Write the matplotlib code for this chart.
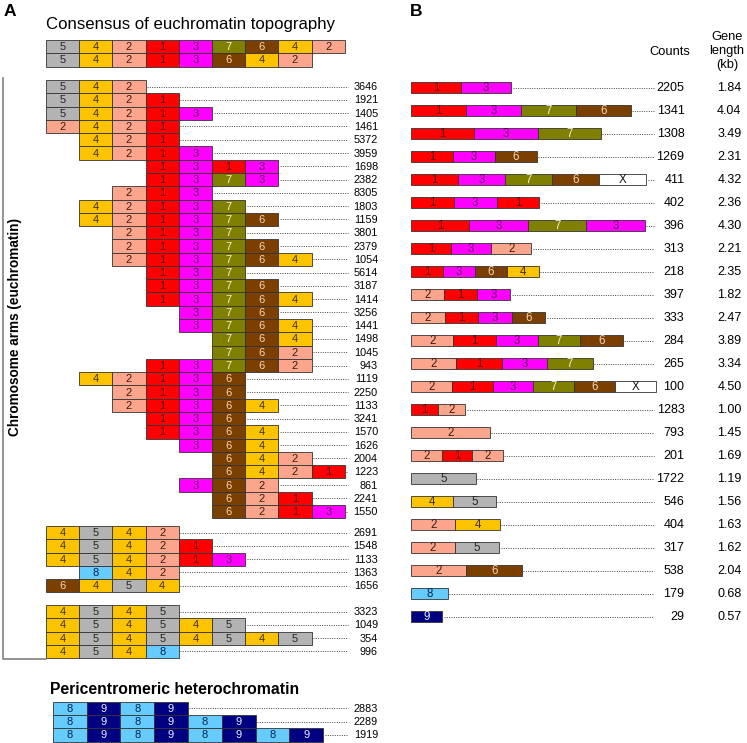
import matplotlib.pyplot as plt
from matplotlib.patches import Rectangle

plt.rcParams['font.family'] = ['Liberation Sans', 'DejaVu Sans']

# couleurs des etats de chromatine
couleurs = {'1': '#ff0000', '2': '#fba58c', '3': '#ff00ff', '4': '#fcc400',
            '5': '#b3b3b3', '6': '#7b3f00', '7': '#808000', '8': '#66ccff',
            '9': '#000080', 'X': '#ffffff'}
couleurs_texte = {'1': '#5c0000', '2': '#3c1c12', '3': '#560056', '4': '#3f3000',
                  '5': '#262626', '6': '#f6d6b8', '7': '#f2f1d2', '8': '#082650',
                  '9': '#eeeeff', 'X': '#111111'}

# --- panneau A ---
consensus_debut = [0, 0]
consensus_seq = ['542137642', '54213642']

bras_debut = [0, 0, 0, 0, 1, 1, 3, 3, 2, 1, 1, 2, 2, 2, 3, 3, 3, 4, 4, 5, 5, 3,
              1, 2, 2, 3, 3, 4, 5, 5, 4, 5, 5]
bras_seq = ['542', '5421', '54213', '2421', '421', '4213', '1313', '1373', '213',
            '42137', '421376', '2137', '21376', '213764', '137', '1376', '13764',
            '376', '3764', '764', '762', '13762', '42136', '2136', '21364', '136',
            '1364', '364', '642', '6421', '362', '621', '6213']
bras_counts = [3646, 1921, 1405, 1461, 5372, 3959, 1698, 2382, 8305, 1803, 1159,
               3801, 2379, 1054, 5614, 3187, 1414, 3256, 1441, 1498, 1045, 943,
               1119, 2250, 1133, 3241, 1570, 1626, 2004, 1223, 861, 2241, 1550]

groupe2_debut = [0, 0, 0, 1, 0]
groupe2_seq = ['4542', '45421', '454213', '842', '6454']
groupe2_counts = [2691, 1548, 1133, 1363, 1656]

groupe3_debut = [0, 0, 0, 0]
groupe3_seq = ['4545', '454545', '45454545', '4548']
groupe3_counts = [3323, 1049, 354, 996]

peri_seq = ['8989', '898989', '89898989']
peri_counts = [2883, 2289, 1919]

# --- panneau B ---
b_seq = ['13', '1376', '137', '136', '1376X', '131', '1373', '132', '1364', '213',
         '2136', '21376', '2137', '21376X', '12', '2', '212', '5', '45', '24',
         '25', '26', '8', '9']
b_counts = [2205, 1341, 1308, 1269, 411, 402, 396, 313, 218, 397, 333, 284, 265,
            100, 1283, 793, 201, 1722, 546, 404, 317, 538, 179, 29]
b_longueur = [1.84, 4.04, 3.49, 2.31, 4.32, 2.36, 4.30, 2.21, 2.35, 1.82, 2.47,
              3.89, 3.34, 4.50, 1.00, 1.45, 1.69, 1.19, 1.56, 1.63, 1.62, 2.04,
              0.68, 0.57]

fig = plt.figure(figsize=(7.47, 7.43), dpi=100)
ax = fig.add_axes([0, 0, 1, 1])
ax.set_xlim(0, 747)
ax.set_ylim(743, 0)
ax.axis('off')

pointille = dict(color='#444444', lw=0.7, ls=(0, (1, 1.4)))


def cellules(x0, y0, w, h, seq, fs=8):
    for i, s in enumerate(seq):
        ax.add_patch(Rectangle((x0 + i * w, y0), w, h, fc=couleurs[s],
                               ec='#333333', lw=0.6))
        ax.text(x0 + (i + 0.5) * w, y0 + h / 2 + 0.5, s, ha='center', va='center',
                fontsize=fs, color=couleurs_texte[s])


def groupe(debuts, seqs, counts, haut, x0=46, cw=33.2, rh=13.28):
    for r in range(len(seqs)):
        y = haut + r * rh
        xs = x0 + debuts[r] * cw
        cellules(xs, y, cw, rh, seqs[r])
        fin = xs + len(seqs[r]) * cw
        if fin + 2 < 348:
            ax.plot([fin + 1.5, 348], [y + rh / 2, y + rh / 2], **pointille)
        ax.text(378, y + rh / 2 + 0.5, str(counts[r]), ha='right', va='center',
                fontsize=7.8)


ax.text(4, 16.5, 'A', fontsize=12.5, fontweight='bold')
ax.text(410, 16.5, 'B', fontsize=12.5, fontweight='bold')
ax.text(46, 29.5, 'Consensus of euchromatin topography', fontsize=12.1)

for r in range(len(consensus_seq)):
    cellules(46 + consensus_debut[r] * 33.2, 40 + r * 13.3, 33.2, 13.3,
             consensus_seq[r])

groupe(bras_debut, bras_seq, bras_counts, 80)
groupe(groupe2_debut, groupe2_seq, groupe2_counts, 526)
groupe(groupe3_debut, groupe3_seq, groupe3_counts, 605)

ax.plot([3, 3, 46], [78, 658.5, 658.5], color='#808080', lw=1.2)
ax.text(15.5, 327, 'Chromosome arms (euchromatin)', rotation=90, ha='center',
        va='center', fontsize=9.8, fontweight='bold')

ax.text(50, 694, 'Pericentromeric heterochromatin', fontsize=11.3,
        fontweight='bold')
groupe([0, 0, 0], peri_seq, peri_counts, 701.7, x0=52.7, cw=33.8, rh=13.3)

# en-tetes du panneau B
ax.text(670, 52, 'Counts', ha='center', va='center', fontsize=9.3)
ax.text(727, 51, 'Gene\nlength\n(kb)', ha='center', va='center', fontsize=9.3,
        linespacing=1.25)

echelle = 54.4  # pixels par kb
for r in range(len(b_seq)):
    yc = 87.5 + r * 23
    L = b_longueur[r] * echelle
    w = L / len(b_seq[r])
    cellules(411, yc - 5.8, w, 11.6, b_seq[r], fs=8.3)
    if 411 + L + 2 < 654:
        ax.plot([411 + L + 1.5, 654], [yc, yc], **pointille)
    ax.text(684.5, yc + 0.5, str(b_counts[r]), ha='right', va='center', fontsize=9)
    ax.text(741.5, yc + 0.5, '%.2f' % b_longueur[r], ha='right', va='center',
            fontsize=9)

fig.savefig('out.png', dpi=100)
